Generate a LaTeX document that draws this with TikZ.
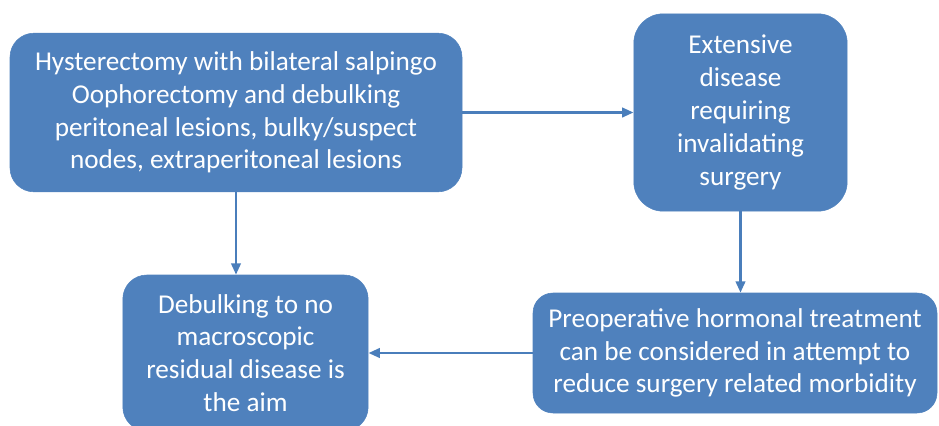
\documentclass[tikz,border=0pt]{standalone}
\usepackage{fontspec}
\setmainfont{Carlito}
\usetikzlibrary{arrows.meta}
\definecolor{boxblue}{RGB}{79,129,189}
\definecolor{flowblue}{RGB}{74,126,187}
\tikzstyle{stepbox} = [draw=boxblue,fill=boxblue,rounded corners=18pt,text=white,align=center,inner sep=0pt,font=\fontsize{20.4}{24.6}\selectfont]
\tikzstyle{flow} = [draw=flowblue,line width=2pt,-{Triangle[length=8.5pt,width=7pt]}]

\begin{document}
\begin{tikzpicture}[x=0.75pt,y=0.75pt,yscale=-1,xscale=1]
\useasboundingbox (0,0) rectangle (939,425);

% boxes
\node (hyst) [stepbox,minimum width=339pt,minimum height=119pt] at (236,112.5) {Hysterectomy with bilateral salpingo\\Oophorectomy and debulking\\peritoneal lesions, bulky/suspect\\nodes, extraperitoneal lesions};
\node (ext) [stepbox,rounded corners=22pt,minimum width=160pt,minimum height=148pt] at (740.5,112.5) {Extensive\\disease\\requiring\\invalidating\\surgery};
\node (aim) [stepbox,minimum width=184pt,minimum height=117pt] at (245.5,353) {Debulking to no\\macroscopic\\residual disease is\\the aim};
\node (prep) [stepbox,rounded corners=15pt,minimum width=303pt,minimum height=90pt] at (735,353) {Preoperative hormonal treatment\\can be considered in attempt to\\reduce surgery related morbidity};

% connectors
\draw [flow] (hyst.east) -- (ext.west);
\draw [flow] (hyst.south) -- (hyst.south |- aim.north);
\draw [flow] (ext.south) -- (ext.south |- prep.north);
\draw [flow] (prep.west) -- (aim.east);

\end{tikzpicture}
\end{document}
